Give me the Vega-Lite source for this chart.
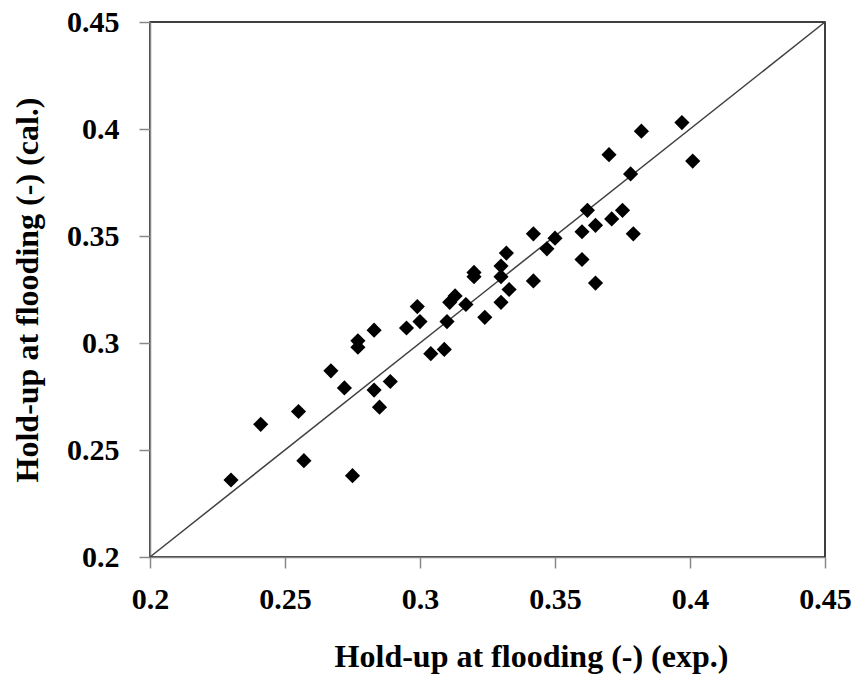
{
  "$schema": "https://vega.github.io/schema/vega-lite/v6.json",
  "width": 675,
  "height": 535,
  "autosize": {"type": "none"},
  "padding": {"left": 150, "top": 22, "right": 33, "bottom": 126},
  "background": "white",
  "config": {
    "view": {"stroke": "#000000", "strokeWidth": 1.5},
    "font": "Liberation Serif"
  },
  "datasets": {
    "pts": [
      {"exp": 0.230, "cal": 0.236},
      {"exp": 0.241, "cal": 0.262},
      {"exp": 0.255, "cal": 0.268},
      {"exp": 0.257, "cal": 0.245},
      {"exp": 0.267, "cal": 0.287},
      {"exp": 0.272, "cal": 0.279},
      {"exp": 0.275, "cal": 0.238},
      {"exp": 0.277, "cal": 0.301},
      {"exp": 0.277, "cal": 0.298},
      {"exp": 0.283, "cal": 0.306},
      {"exp": 0.283, "cal": 0.278},
      {"exp": 0.285, "cal": 0.270},
      {"exp": 0.289, "cal": 0.282},
      {"exp": 0.295, "cal": 0.307},
      {"exp": 0.299, "cal": 0.317},
      {"exp": 0.300, "cal": 0.310},
      {"exp": 0.304, "cal": 0.295},
      {"exp": 0.309, "cal": 0.297},
      {"exp": 0.310, "cal": 0.310},
      {"exp": 0.311, "cal": 0.319},
      {"exp": 0.313, "cal": 0.322},
      {"exp": 0.317, "cal": 0.318},
      {"exp": 0.320, "cal": 0.333},
      {"exp": 0.320, "cal": 0.331},
      {"exp": 0.324, "cal": 0.312},
      {"exp": 0.330, "cal": 0.319},
      {"exp": 0.330, "cal": 0.336},
      {"exp": 0.330, "cal": 0.331},
      {"exp": 0.332, "cal": 0.342},
      {"exp": 0.333, "cal": 0.325},
      {"exp": 0.342, "cal": 0.351},
      {"exp": 0.342, "cal": 0.329},
      {"exp": 0.347, "cal": 0.344},
      {"exp": 0.350, "cal": 0.349},
      {"exp": 0.360, "cal": 0.352},
      {"exp": 0.362, "cal": 0.362},
      {"exp": 0.365, "cal": 0.355},
      {"exp": 0.360, "cal": 0.339},
      {"exp": 0.365, "cal": 0.328},
      {"exp": 0.370, "cal": 0.388},
      {"exp": 0.371, "cal": 0.358},
      {"exp": 0.375, "cal": 0.362},
      {"exp": 0.378, "cal": 0.379},
      {"exp": 0.379, "cal": 0.351},
      {"exp": 0.382, "cal": 0.399},
      {"exp": 0.397, "cal": 0.403},
      {"exp": 0.401, "cal": 0.385}
    ],
    "diag": [
      {"exp": 0.2, "cal": 0.2},
      {"exp": 0.45, "cal": 0.45}
    ]
  },
  "layer": [
    {
      "data": {"name": "diag"},
      "mark": {"type": "line", "color": "#404040", "strokeWidth": 1.5},
      "encoding": {
        "x": {"field": "exp", "type": "quantitative"},
        "y": {"field": "cal", "type": "quantitative"}
      }
    },
    {
      "data": {"name": "pts"},
      "mark": {"type": "point", "shape": "diamond", "filled": true, "color": "#000000", "size": 230, "opacity": 1},
      "encoding": {
        "x": {
          "field": "exp", "type": "quantitative",
          "scale": {"domain": [0.2, 0.45], "nice": false, "zero": false},
          "axis": {
            "title": "Hold-up at flooding (-) (exp.)",
            "values": [0.2, 0.25, 0.3, 0.35, 0.4, 0.45],
            "format": "~g",
            "grid": false,
            "domainColor": "#888888", "domainWidth": 1.5,
            "tickColor": "#888888", "tickWidth": 1.5, "tickSize": 11,
            "labelFont": "Liberation Serif", "labelFontSize": 30, "labelFontWeight": "bold", "labelColor": "#000000",
            "labelPadding": 16, "labelFlush": false,
            "titleFont": "Liberation Serif", "titleFontSize": 32, "titleFontWeight": "bold", "titleColor": "#000000",
            "titleX": 381, "titleAnchor": "middle", "titleAlign": "center",
            "titlePadding": 27
          }
        },
        "y": {
          "field": "cal", "type": "quantitative",
          "scale": {"domain": [0.2, 0.45], "nice": false, "zero": false},
          "axis": {
            "title": "Hold-up at flooding (-) (cal.)",
            "values": [0.2, 0.25, 0.3, 0.35, 0.4, 0.45],
            "format": "~g",
            "grid": false,
            "domainColor": "#888888", "domainWidth": 1.5,
            "tickColor": "#888888", "tickWidth": 1.5, "tickSize": 11,
            "labelFont": "Liberation Serif", "labelFontSize": 30, "labelFontWeight": "bold", "labelColor": "#000000",
            "labelPadding": 20, "labelFlush": false,
            "titleFont": "Liberation Serif", "titleFontSize": 32, "titleFontWeight": "bold", "titleColor": "#000000",
            "titlePadding": 22
          }
        }
      }
    }
  ]
}
